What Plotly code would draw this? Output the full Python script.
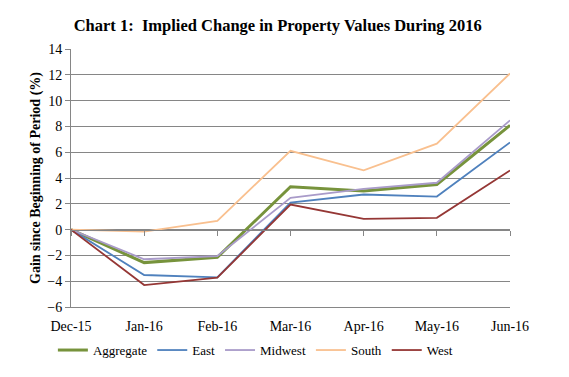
import plotly.graph_objects as go

categories = ["Dec-15", "Jan-16", "Feb-16", "Mar-16", "Apr-16", "May-16", "Jun-16"]
aggregate = [0, -2.56, -2.15, 3.32, 3.0, 3.5, 8.08]
east = [0, -3.52, -3.7, 2.1, 2.72, 2.56, 6.76]
midwest = [0, -2.3, -2.05, 2.46, 3.16, 3.63, 8.47]
south = [0, -0.15, 0.67, 6.11, 4.59, 6.66, 12.1]
west = [0, -4.3, -3.73, 1.94, 0.83, 0.91, 4.59]
y_ticks = [-6, -4, -2, 0, 2, 4, 6, 8, 10, 12, 14]

series = [
    ("Aggregate", aggregate, "#77933C", 3),
    ("East", east, "#4F81BD", 1.8),
    ("Midwest", midwest, "#A99BC9", 1.8),
    ("South", south, "#F9C08F", 1.8),
    ("West", west, "#953735", 1.8),
]

font = "Liberation Serif, Georgia, serif"
fig = go.Figure()
for name, vals, color, w in series:
    fig.add_trace(go.Scatter(x=categories, y=vals, name=name, mode="lines",
                             line=dict(color=color, width=w)))

# zero-line category axis with ticks (Excel style)
fig.add_trace(go.Scatter(x=categories, y=[None]*len(categories), xaxis="x2",
                         showlegend=False, hoverinfo="skip"))

fig.update_layout(
    width=569, height=377,
    paper_bgcolor="white", plot_bgcolor="white",
    margin=dict(l=63, r=67, t=41, b=78, autoexpand=False),
    font=dict(family=font, color="black", size=13),
    title=dict(text="<b>Chart 1:  Implied Change in Property Values During 2016</b>",
               x=0.474, xanchor="center", y=0.955, yanchor="middle",
               font=dict(size=16.5, family=font)),
    xaxis=dict(type="category", range=[0, 6], showgrid=False, showline=True,
               linecolor="#868686", linewidth=1, ticks="", tickfont=dict(size=14),
               zeroline=False, ticklabelstandoff=6),
    xaxis2=dict(type="category", range=[0, 6], overlaying="x", anchor="free",
                position=0.3, side="bottom", showgrid=False, showline=True,
                linecolor="#868686", linewidth=1, ticks="outside", ticklen=5,
                tickcolor="#868686", showticklabels=False),
    yaxis=dict(range=[-6, 14], tickvals=y_ticks, showgrid=True, gridcolor="#868686",
               gridwidth=1, showline=True, linecolor="#868686", linewidth=1,
               ticks="outside", ticklen=5, tickcolor="#868686", zeroline=False,
               tickfont=dict(size=14),
               title=dict(text="<b>Gain since Beginning of Period (%)</b>",
                          font=dict(size=14), standoff=3)),
    legend=dict(orientation="h", x=0.42, xanchor="center", y=-0.167, yanchor="middle",
                font=dict(size=13), itemwidth=30, tracegroupgap=0),
    showlegend=True,
)

fig.write_html("out.html")
